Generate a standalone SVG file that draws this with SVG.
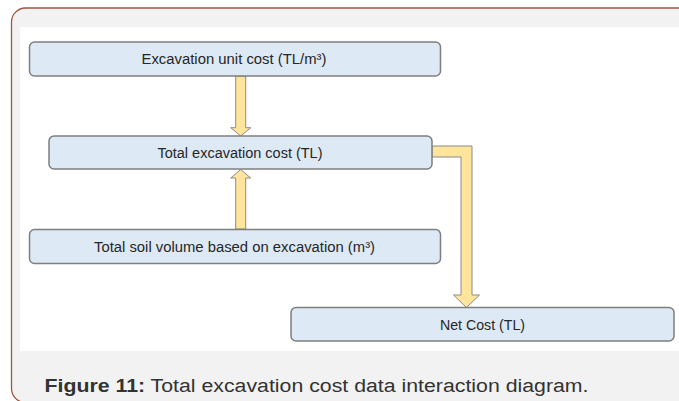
<svg xmlns="http://www.w3.org/2000/svg" width="679" height="401" viewBox="0 0 679 401">
<style>
.node rect{fill:#dde9f5;stroke:#7f7f7f;stroke-width:1.5}
.node text{font-family:"Liberation Sans",Arial,sans-serif;font-size:14px;fill:#262626;text-anchor:middle;dominant-baseline:central}
.arrow{fill:#fee59b;stroke:#8a8a8a;stroke-width:1}
.cap{font-family:"Liberation Sans",Arial,sans-serif;font-size:18px;fill:#333333}
</style>
<rect x="0" y="0" width="679" height="401" fill="#ffffff"/>
<rect x="11.5" y="8" width="700" height="394.5" rx="14" ry="14" fill="#f2f2f2" stroke="#a0573a" stroke-width="1.3"/>
<rect x="20" y="27" width="659" height="324" fill="#ffffff"/>
<g id="connectors">
<path class="arrow" d="M235.7,76 L245.7,76 L245.7,127.7 L250.7,127.7 L240.7,136 L230.7,127.7 L235.7,127.7 Z"/>
<path class="arrow" d="M235.7,229 L245.7,229 L245.7,178 L250.7,178 L240.7,169.5 L230.7,178 L235.7,178 Z"/>
<path class="arrow" d="M432,146 L472,146 L472,295 L479.5,295 L466.5,307.5 L453.5,295 L461,295 L461,157 L432,157 Z"/>
</g>
<g id="node1" class="node">
<rect x="29.5" y="42" width="411" height="34" rx="5"/>
<text x="234" y="59" textLength="185" lengthAdjust="spacingAndGlyphs">Excavation unit cost (TL/m³)</text>
</g>
<g id="node2" class="node">
<rect x="49" y="136" width="383" height="33" rx="5"/>
<text x="240" y="153" textLength="165" lengthAdjust="spacingAndGlyphs">Total excavation cost (TL)</text>
</g>
<g id="node3" class="node">
<rect x="29.5" y="229.5" width="411" height="34" rx="5"/>
<text x="234.5" y="247" textLength="281" lengthAdjust="spacingAndGlyphs">Total soil volume based on excavation (m³)</text>
</g>
<g id="node4" class="node">
<rect x="291" y="307.5" width="383" height="33.5" rx="5"/>
<text x="482.5" y="325" textLength="85" lengthAdjust="spacingAndGlyphs">Net Cost (TL)</text>
</g>
<text class="cap" x="44.5" y="392" textLength="544" lengthAdjust="spacingAndGlyphs"><tspan font-weight="bold">Figure 11:</tspan> Total excavation cost data interaction diagram.</text>
</svg>
